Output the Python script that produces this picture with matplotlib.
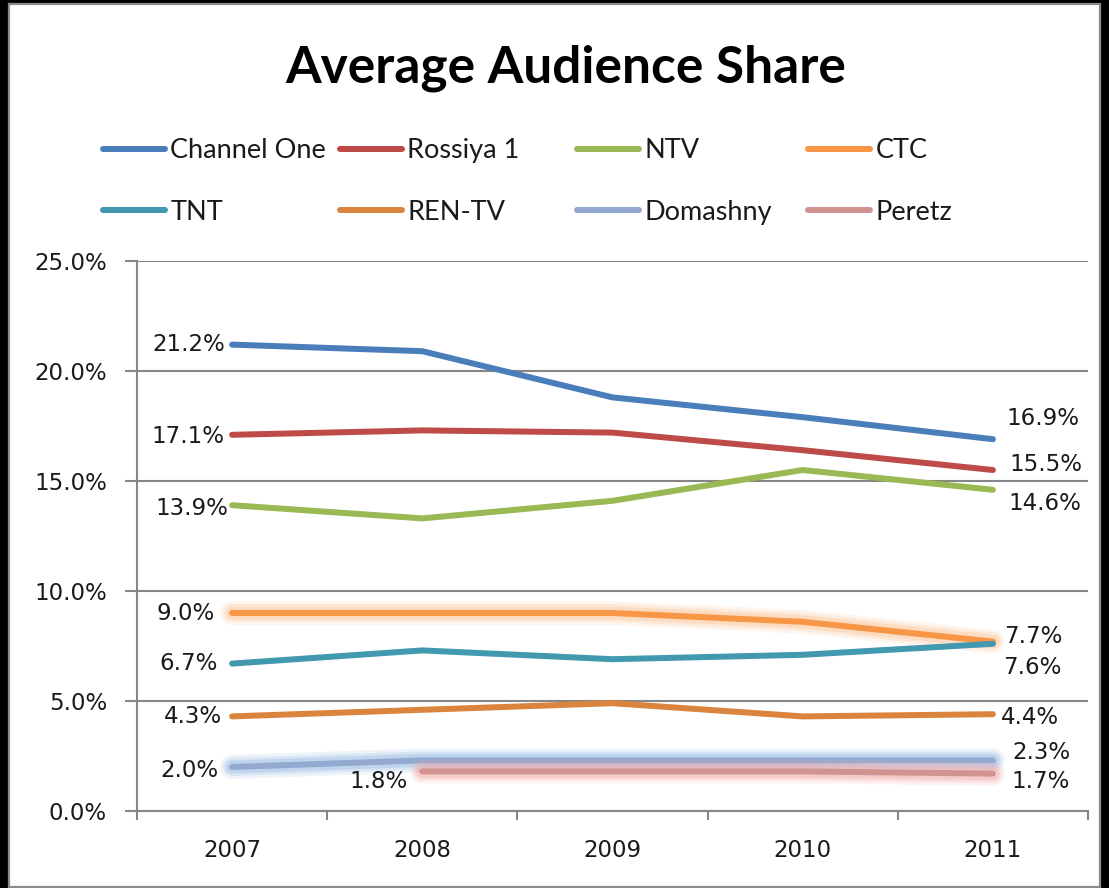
import numpy as np
import matplotlib
matplotlib.use("Agg")
import matplotlib.pyplot as plt
from matplotlib.patches import Rectangle

# ---------------- data ----------------
years = ["2007", "2008", "2009", "2010", "2011"]
channels = ["Channel One", "Rossiya 1", "NTV", "CTC", "TNT", "REN-TV", "Domashny", "Peretz"]
channel_one = [21.2, 20.9, 18.8, 17.9, 16.9]
rossiya_1 = [17.1, 17.3, 17.2, 16.4, 15.5]
ntv = [13.9, 13.3, 14.1, 15.5, 14.6]
ctc = [9.0, 9.0, 9.0, 8.6, 7.7]
tnt = [6.7, 7.3, 6.9, 7.1, 7.6]
ren_tv = [4.3, 4.6, 4.9, 4.3, 4.4]
domashny = [2.0, 2.3, 2.3, 2.3, 2.3]
peretz = [np.nan, 1.8, 1.8, 1.8, 1.7]
yticks = [0.0, 5.0, 10.0, 15.0, 20.0, 25.0]

series = [channel_one, rossiya_1, ntv, ctc, tnt, ren_tv, domashny, peretz]
colors = ["#4A7EBB", "#BE4B48", "#98B954", "#F79646", "#4198AF", "#DB843D", "#93A9CF", "#D19392"]
glow = {3: "#FAC08F", 6: "#8DB4E2", 7: "#F2A0A0"}

# labels: (series index, point index, dx px, dy px, ha)
labels = [
    (0, 0, -7, 0, "right"), (0, 4, 14, 21, "left"),
    (1, 0, -8, -2, "right"), (1, 4, 17, 6, "left"),
    (2, 0, -4, -3, "right"), (2, 4, 16, -14, "left"),
    (3, 0, -17, 0, "right"), (3, 4, 11, 5, "left"),
    (4, 0, -14, 0, "right"), (4, 4, 10, -24, "left"),
    (5, 0, -10, 0, "right"), (5, 4, 8, -3, "left"),
    (6, 0, -14, -3, "right"), (6, 4, 19, 8, "left"),
    (7, 1, -15, -10, "right"), (7, 4, 19, -8, "left"),
]

W, H = 1109, 888
fig = plt.figure(figsize=(W / 100, H / 100), dpi=100, facecolor="black")
# white chart area with grey border
fig.patches.append(Rectangle((9 / W, 1 / H), (1100 - 9) / W, (884 - 1) / H,
                             transform=fig.transFigure, facecolor="white",
                             edgecolor="#8C8C8C", linewidth=1.6, zorder=-10))

ax = fig.add_axes([137 / W, (H - 811) / H, (1088 - 137) / W, (811 - 261) / H])
ax.set_facecolor("white")
x = np.arange(len(years))
px = 0.72  # pixels -> points

main_lines = []
for i, (vals, c) in enumerate(zip(series, colors)):
    if i in glow:
        for lw, a in [(24, 0.15), (18, 0.22), (13, 0.32)]:
            ax.plot(x, vals, color=glow[i], lw=lw * px, alpha=a,
                    solid_capstyle="round", solid_joinstyle="round", zorder=2 + i)
    ln, = ax.plot(x, vals, color=c, lw=6 * px, solid_capstyle="round",
                  solid_joinstyle="round", zorder=2.5 + i, label=channels[i])
    main_lines.append(ln)

for si, pi, dx, dy, ha in labels:
    v = series[si][pi]
    ax.annotate(f"{v:.1f}%", xy=(x[pi], v), xytext=(dx * px, dy * px),
                textcoords="offset points", ha=ha, va="center",
                fontsize=16.5, color="#1A1A1A", family="DejaVu Sans", zorder=20)

ax.set_xlim(-0.5, len(years) - 0.5)
ax.set_ylim(yticks[0], yticks[-1])
ax.set_yticks(yticks)
ax.set_yticklabels([f"{t:.1f}%" for t in yticks])
ax.set_xticks(np.arange(-0.5, len(years), 1.0))
ax.set_xticklabels([])
ax.set_xticks(x, minor=True)
ax.set_xticklabels(years, minor=True)
ax.tick_params(axis="x", which="major", length=9 * px, width=1.5, color="#868686")
ax.tick_params(axis="x", which="minor", length=0, pad=28 * px, labelsize=16.5, labelcolor="#1A1A1A")
ax.tick_params(axis="y", length=12 * px, width=1.5, color="#868686", pad=18 * px,
               labelsize=16.5, labelcolor="#1A1A1A")
ax.grid(axis="y", color="#868686", lw=1.5)
ax.set_axisbelow(True)
for s in ["top", "right"]:
    ax.spines[s].set_visible(False)
for s in ["left", "bottom"]:
    ax.spines[s].set_color("#868686")
    ax.spines[s].set_linewidth(1.5)

fig.text(566 / W, 1 - 68 / H, "Average Audience Share", ha="center", va="center",
         fontsize=37, fontweight="bold", color="black", family="Lato")

col_x = [103, 340, 577, 808]
for j in range(4):
    hs = [main_lines[j], main_lines[j + 4]]
    leg = fig.legend(hs, [h.get_label() for h in hs], loc="upper left",
                     bbox_to_anchor=(col_x[j] / W, 1 - 138 / H),
                     frameon=False, prop={"family": "Lato", "size": 19.5},
                     handlelength=2.3, handletextpad=0.19,
                     labelspacing=1.36, borderpad=0, borderaxespad=0)
    for t in leg.get_texts():
        t.set_color("#1A1A1A")

fig.savefig("out.png", dpi=100, facecolor=fig.get_facecolor())
